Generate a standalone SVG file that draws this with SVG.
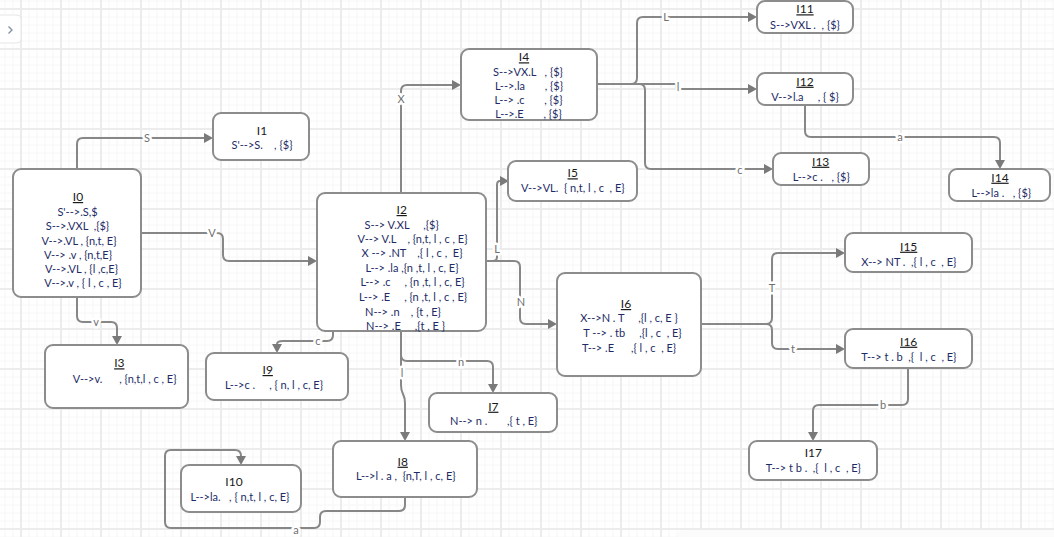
<svg xmlns="http://www.w3.org/2000/svg" width="1054" height="537" viewBox="0 0 1054 537" xml:space="preserve">
<style>
.node rect.box{fill:#fff;stroke:#8c8c8c;stroke-width:2}
.t{font-family:Lato,"Liberation Sans",sans-serif;font-size:11px;fill:#1d2b66;text-anchor:middle;white-space:pre}
.h{font-family:Lato,"Liberation Sans",sans-serif;font-size:12px;fill:#1a1a1a;text-anchor:middle;white-space:pre}
.u{text-decoration:underline}
.e{fill:none;stroke:#878787;stroke-width:2}
.lb{font-family:Lato,"Liberation Sans",sans-serif;font-size:11px;fill:#707070;text-anchor:middle;paint-order:stroke;stroke:#fff;stroke-width:5px;stroke-linejoin:round}
</style>
<defs>
<pattern id="grid" width="40" height="40" patternUnits="userSpaceOnUse">
<path d="M5,0V40M13,0V40M29,0V40M37,0V40M0,1H40M0,17H40M0,25H40M0,33H40" stroke="#f6f6f6" stroke-width="1" fill="none"/>
<path d="M21,0V40M0,9H40" stroke="#ececec" stroke-width="2" fill="none"/>
</pattern>
<marker id="ar" markerUnits="userSpaceOnUse" markerWidth="10" markerHeight="10" refX="0" refY="5" orient="auto">
<path d="M0,0L9,5L0,10z" fill="#7a7a7a"/>
</marker>
</defs>
<rect width="1054" height="537" fill="#fff"/>
<rect width="1054" height="537" fill="url(#grid)"/>
<rect x="678" y="530" width="380" height="12" rx="5" fill="#fbfbfb"/>
<g id="sidebar-toggle">
<rect x="-6" y="15" width="27" height="28" rx="4" fill="#fff" stroke="#e6e6e6" stroke-width="1"/>
<path d="M8.5,26.5L12,30L8.5,33.5" fill="none" stroke="#8593a6" stroke-width="1.4"/>
</g>
<g id="connectors">
<path class="e" marker-end="url(#ar)" d="M77,169V144Q77,138 83,138H204"/>
<path class="e" marker-end="url(#ar)" d="M141,233H217Q223,233 223,239V255Q223,261 229,261H308"/>
<path class="e" marker-end="url(#ar)" d="M77,297V316Q77,322 83,322H111Q117,322 117,328V336"/>
<path class="e" marker-end="url(#ar)" d="M401,193V91Q401,85 407,85H452"/>
<path class="e" marker-end="url(#ar)" d="M486,261H493Q497,261 497,257V185Q497,181 500,181"/>
<path class="e" marker-end="url(#ar)" d="M486,261H514Q520,261 520,267V318Q520,324 526,324H548"/>
<path class="e" marker-end="url(#ar)" d="M333,331V335Q333,341 327,341H283Q277,341 277,344"/>
<path class="e" marker-end="url(#ar)" d="M401,331V355Q401,361 407,361H487Q493,361 493,367V384"/>
<path class="e" marker-end="url(#ar)" d="M401,355V385C401,395 405,393 405,403V432"/>
<path class="e" marker-end="url(#ar)" d="M597,84H676V89H748"/>
<path class="e" marker-end="url(#ar)" d="M597,84H631Q637,84 637,78V23Q637,17 643,17H748"/>
<path class="e" marker-end="url(#ar)" d="M597,84H639Q645,84 645,90V163Q645,169 651,169H764"/>
<path class="e" marker-end="url(#ar)" d="M805,105V131Q805,137 811,137H994Q1000,137 1000,143V160"/>
<path class="e" marker-end="url(#ar)" d="M701,324H766Q772,324 772,318V259Q772,253 778,253H836"/>
<path class="e" marker-end="url(#ar)" d="M701,324H766Q772,324 772,330V343Q772,349 778,349H836"/>
<path class="e" marker-end="url(#ar)" d="M908,368V399Q908,405 902,405H819Q813,405 813,411V432"/>
<path class="e" marker-end="url(#ar)" d="M405,497V505Q405,511 399,511H326Q320,511 320,517V522Q320,528 314,528H171Q165,528 165,522V456Q165,450 171,450H235Q241,450 241,456"/>
<text class="lb" x="147" y="142">S</text>
<text class="lb" x="212" y="237">V</text>
<text class="lb" x="96" y="326">v</text>
<text class="lb" x="401" y="103">X</text>
<text class="lb" x="497" y="253">L</text>
<text class="lb" x="521" y="306">N</text>
<text class="lb" x="318" y="345">c</text>
<text class="lb" x="461" y="366">n</text>
<text class="lb" x="402" y="377">l</text>
<text class="lb" x="678" y="91">l</text>
<text class="lb" x="666" y="21">L</text>
<text class="lb" x="740" y="174">c</text>
<text class="lb" x="900" y="141">a</text>
<text class="lb" x="772" y="292">T</text>
<text class="lb" x="793" y="353">t</text>
<text class="lb" x="883" y="409">b</text>
<text class="lb" x="296" y="534">a</text>
</g>
<g id="I0" class="node">
<rect class="box" x="13" y="169" width="128" height="128" rx="8"/>
<text class="h u" x="78" y="201">I0</text>
<text class="t" x="77.5" y="215.5">S'-->.S,$</text>
<text class="t" x="77.5" y="230">S-->.VXL  ,{$}</text>
<text class="t" x="79" y="244.5">V-->.VL , {n,t, E}</text>
<text class="t" x="78" y="259">V--> .v , {n,t,E}</text>
<text class="t" x="81.5" y="273">V-->.VL , {l ,c,E}</text>
<text class="t" x="83" y="287">V-->.v , { l , c , E}</text>
</g>
<g id="I1" class="node">
<rect class="box" x="213" y="113" width="96" height="47" rx="8"/>
<text class="h" x="262" y="134.5">I1</text>
<text class="t" x="262" y="149">S'-->S.    , {$}</text>
</g>
<g id="I2" class="node">
<rect class="box" x="317" y="193" width="169" height="138" rx="8"/>
<text class="h u" x="401.7" y="214">I2</text>
<text class="t" x="401.7" y="229">S--> V.XL     ,{$}</text>
<text class="t" x="412.5" y="243">V--> V.L    , {n,t, l , c , E}</text>
<text class="t" x="412" y="257.3">X --> .NT    ,{ l , c ,  E}</text>
<text class="t" x="412" y="271.7">L--> .la ,{n ,t, l , c, E}</text>
<text class="t" x="412.5" y="286.3">L--> .c     , {n ,t, l , c, E}</text>
<text class="t" x="413" y="300.7">L--> .E     , {n ,t, l , c , E}</text>
<text class="t" x="403" y="315.5">N--> .n    , {t , E}</text>
<text class="t" x="405.5" y="329.5">N--> .E     ,{t , E }</text>
</g>
<g id="I3" class="node">
<rect class="box" x="45" y="345" width="143" height="63" rx="8"/>
<text class="h u" x="119.3" y="367.3">I3</text>
<text class="t" x="124.7" y="383">V-->v.      , {n,t,l , c , E}</text>
</g>
<g id="I4" class="node">
<rect class="box" x="461" y="49" width="136" height="71" rx="8"/>
<text class="h u" x="524" y="61.3">I4</text>
<text class="t" x="528" y="75.7">S-->VX.L   , {$}</text>
<text class="t" x="529" y="90">L-->.la       , {$}</text>
<text class="t" x="528.5" y="104">L--> .c       , {$}</text>
<text class="t" x="528.5" y="118">L-->.E       , {$}</text>
</g>
<g id="I5" class="node">
<rect class="box" x="508" y="161" width="129" height="40" rx="8"/>
<text class="h u" x="572.7" y="177.3">I5</text>
<text class="t" x="572.8" y="192.3">V-->VL.  { n,t, l , c  , E}</text>
</g>
<g id="I6" class="node">
<rect class="box" x="557" y="273" width="144" height="103" rx="8"/>
<text class="h u" x="626" y="308">I6</text>
<text class="t" x="629" y="322.3">X-->N . T     ,{l , c, E }</text>
<text class="t" x="632.5" y="336.7">T --> . tb     ,{l , c  , E}</text>
<text class="t" x="629" y="351.7">T--> .E      ,{ l , c  , E}</text>
</g>
<g id="I7" class="node">
<rect class="box" x="429" y="393" width="128" height="39" rx="8"/>
<text class="h u" x="493.3" y="410.7">I7</text>
<text class="t" x="493.7" y="424.7">N--> n .       ,{ t , E}</text>
</g>
<g id="I8" class="node">
<rect class="box" x="333" y="441" width="144" height="56" rx="8"/>
<text class="h u" x="402.7" y="465.7">I8</text>
<text class="t" x="405.8" y="480">L-->l . a ,  {n,T, l , c, E}</text>
</g>
<g id="I9" class="node">
<rect class="box" x="206" y="353" width="142" height="47" rx="8"/>
<text class="h u" x="267.7" y="374">I9</text>
<text class="t" x="274" y="389">L-->c .     , { n, l , c, E}</text>
</g>
<g id="I10" class="node">
<rect class="box" x="181" y="465" width="120" height="47" rx="8"/>
<text class="h" x="234" y="486.3">I10</text>
<text class="t" x="240" y="500.7">L-->la.   , { n,t, l , c, E}</text>
</g>
<g id="I11" class="node">
<rect class="box" x="757" y="1" width="96" height="32" rx="8"/>
<text class="h u" x="805" y="13.3">I11</text>
<text class="t" x="805" y="29">S-->VXL .  , {$}</text>
</g>
<g id="I12" class="node">
<rect class="box" x="757" y="73" width="96" height="32" rx="8"/>
<text class="h u" x="805" y="85.7">I12</text>
<text class="t" x="805" y="101.3">V-->l.a     , { $}</text>
</g>
<g id="I13" class="node">
<rect class="box" x="773" y="153" width="96" height="32" rx="8"/>
<text class="h u" x="820.7" y="165.7">I13</text>
<text class="t" x="821.3" y="180.7">L-->c .   , {$}</text>
</g>
<g id="I14" class="node">
<rect class="box" x="949" y="169" width="101" height="32" rx="8"/>
<text class="h u" x="1000" y="181.7">I14</text>
<text class="t" x="1001.3" y="196.7">L-->la .   , {$}</text>
</g>
<g id="I15" class="node">
<rect class="box" x="845" y="233" width="127" height="39" rx="8"/>
<text class="h u" x="908.7" y="250.7">I15</text>
<text class="t" x="908.8" y="265.7">X--> NT .  ,{ l , c  , E}</text>
</g>
<g id="I16" class="node">
<rect class="box" x="845" y="329" width="127" height="39" rx="8"/>
<text class="h u" x="908.7" y="345.7">I16</text>
<text class="t" x="908.8" y="360.7">T--> t . b  ,{  l , c  , E}</text>
</g>
<g id="I17" class="node">
<rect class="box" x="749" y="441" width="128" height="39" rx="8"/>
<text class="h" x="813.3" y="457.3">I17</text>
<text class="t" x="813.3" y="472.3">T--> t b .  ,{  l , c  , E}</text>
</g>
</svg>
